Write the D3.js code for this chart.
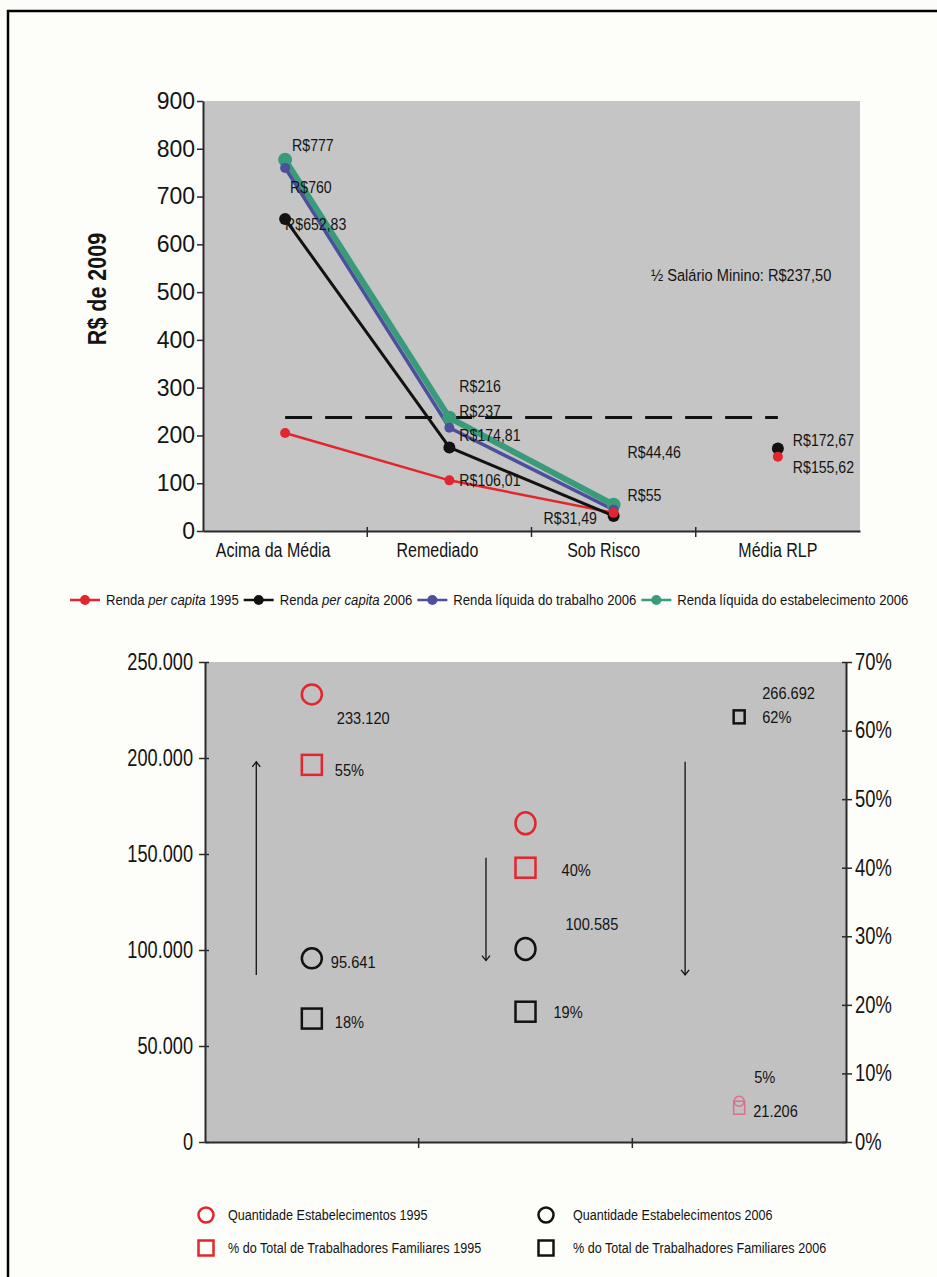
<!DOCTYPE html>
<html>
<head>
<meta charset="utf-8">
<script src="https://cdn.jsdelivr.net/npm/d3@7"></script>
<style>
  html, body { margin: 0; padding: 0; background: #fcfcf9; }
  svg { display: block; }
  text { font-family: 'Liberation Sans', Arial, sans-serif; fill: #141414; }
</style>
</head>
<body>
<svg id="chart" width="937" height="1277"></svg>
<script>
// ---------- Income chart (R$ de 2009) ----------
const categories = ["Acima da Média", "Remediado", "Sob Risco", "Média RLP"];
const rendaPerCapita1995 = [205, 106.01, 38, 155.62];
const rendaPerCapita2006 = [652.83, 174.81, 31.49, 172.67];
const rendaLiquidaTrabalho2006 = [760, 216, 44.46, null];
const rendaLiquidaEstabelecimento2006 = [777, 237, 55, null];
const meioSalarioMinimo = 237.5;
const incomeTicks = [0, 100, 200, 300, 400, 500, 600, 700, 800, 900];

// ---------- Establishments chart ----------
const classes = ["Acima da Média", "Remediado", "Sob Risco"];
const estabelecimentos1995 = [233120, 166000, 21206];
const estabelecimentos2006 = [95641, 100585, 266692];
const trabFamiliares1995 = [55, 40, 5];
const trabFamiliares2006 = [18, 19, 62];
const countTicks = [0, 50000, 100000, 150000, 200000, 250000];
const shareTicks = [0, 10, 20, 30, 40, 50, 60, 70];

const ptBR = d3.formatLocale({ decimal: ",", thousands: ".", grouping: [3], currency: ["R$", ""] });
const fmtInt = ptBR.format(",d");
const fmtDec = ptBR.format(",.2f");
const fmtBRL = v => "R$" + (Number.isInteger(v) ? fmtInt(v) : fmtDec(v));
const fmtPct = v => v + "%";

const RED = "#e3262e", BLACK = "#121212", BLUE = "#4c4f9c", GREEN = "#3a9b7b";

// narrow the glyphs horizontally around each text's own anchor point
function condense(sel, sx) {
  sel.each(function () {
    const t = d3.select(this);
    const x = +t.attr("x") || 0, y = +t.attr("y") || 0;
    t.attr("transform", `translate(${x},${y}) scale(${sx},1) translate(${-x},${-y})`);
  });
}

const svg = d3.select("#chart");

// page frame
svg.append("rect").attr("x", 8).attr("y", 11).attr("width", 960).attr("height", 1300)
  .attr("fill", "#fdfdfa").attr("stroke", "#000").attr("stroke-width", 2.5);

// ================= TOP CHART =================
const incomeBox = { left: 203, right: 860, top: 101, bottom: 531 };
const x1 = d3.scaleBand().domain(categories).range([incomeBox.left, incomeBox.right]);
const y1 = d3.scaleLinear().domain([0, 900]).range([incomeBox.bottom, incomeBox.top]);
const cx1 = c => x1(c) + x1.bandwidth() / 2;

svg.append("rect").attr("x", incomeBox.left).attr("y", incomeBox.top)
  .attr("width", incomeBox.right - incomeBox.left).attr("height", incomeBox.bottom - incomeBox.top)
  .attr("fill", "#c5c5c5");

const incomeSeries = [
  { name: ["Renda ", "per capita", " 1995"], values: rendaPerCapita1995, color: RED, width: 2.5, r: 5 },
  { name: ["Renda ", "per capita", " 2006"], values: rendaPerCapita2006, color: BLACK, width: 3, r: 6 },
  { name: ["Renda líquida do trabalho 2006"], values: rendaLiquidaTrabalho2006, color: BLUE, width: 3.5, r: 5 },
  { name: ["Renda líquida do estabelecimento 2006"], values: rendaLiquidaEstabelecimento2006, color: GREEN, width: 6, r: 7 }
];

// lines join the three income classes; the regional mean is plotted as a lone point
const lineGen = d3.line()
  .defined(d => d.v != null)
  .x(d => cx1(d.c)).y(d => y1(d.v));
const rows = s => categories.map((c, i) => ({ c, v: s.values[i] }));

const lineOrder = [3, 2, 0, 1];
lineOrder.forEach(k => {
  const s = incomeSeries[k];
  svg.append("path")
    .datum(rows(s).slice(0, 3))
    .attr("d", lineGen)
    .attr("fill", "none").attr("stroke", s.color)
    .attr("stroke-width", s.width).attr("stroke-linejoin", "round");
});

// half minimum wage reference
svg.append("line")
  .attr("x1", cx1(categories[0])).attr("x2", cx1(categories[3]))
  .attr("y1", y1(meioSalarioMinimo)).attr("y2", y1(meioSalarioMinimo))
  .attr("stroke", "#111").attr("stroke-width", 3).attr("stroke-dasharray", "27,13");

const markerOrder = [3, 2, 1, 0];
markerOrder.forEach(k => {
  const s = incomeSeries[k];
  svg.append("g").selectAll("circle")
    .data(rows(s).filter(d => d.v != null))
    .join("circle")
    .attr("cx", d => cx1(d.c)).attr("cy", d => y1(d.v))
    .attr("r", s.r).attr("fill", s.color);
});

// value labels (series index, category index, offset)
const incomeLabels = [
  { s: 3, i: 0, dx: 7, dy: -15 },
  { s: 2, i: 0, dx: 5, dy: 19 },
  { s: 1, i: 0, dx: 0, dy: 5 },
  { s: 2, i: 1, dx: 10, dy: -42 },
  { s: 3, i: 1, dx: 10, dy: -7 },
  { s: 1, i: 1, dx: 10, dy: -12 },
  { s: 0, i: 1, dx: 10, dy: 0 },
  { s: 2, i: 2, dx: 14, dy: -58 },
  { s: 3, i: 2, dx: 14, dy: -10 },
  { s: 1, i: 2, dx: -70, dy: 2 },
  { s: 1, i: 3, dx: 15, dy: -8 },
  { s: 0, i: 3, dx: 15, dy: 10 }
];
svg.append("g").selectAll("text")
  .data(incomeLabels)
  .join("text")
  .attr("x", d => cx1(categories[d.i]) + d.dx)
  .attr("y", d => y1(incomeSeries[d.s].values[d.i]) + d.dy)
  .attr("dy", "0.35em")
  .style("font-size", "17px")
  .text(d => fmtBRL(incomeSeries[d.s].values[d.i]))
  .call(condense, 0.83);

svg.append("text")
  .attr("x", 651).attr("y", 275).attr("dy", "0.35em")
  .style("font-size", "17px")
  .text("½ Salário Minino: R$" + ptBR.format(",.2f")(meioSalarioMinimo))
  .call(condense, 0.86);

// y axis
const yAxis1 = svg.append("g").attr("transform", `translate(${incomeBox.left},0)`)
  .call(d3.axisLeft(y1).tickValues(incomeTicks).tickSize(6).tickSizeOuter(0).tickPadding(2));
yAxis1.select(".domain").attr("stroke", "#2a2a2a").attr("stroke-width", 2);
yAxis1.selectAll(".tick line").attr("stroke", "#2a2a2a").attr("stroke-width", 1.5);
yAxis1.selectAll(".tick text").style("font-family", "'Liberation Sans', Arial, sans-serif")
  .style("font-size", "23px").attr("fill", "#111");

// x axis: category names sit slightly off the band centres
const axisLabelShift = [-12, -12, -10, 0];
const xAxis1 = svg.append("g").attr("transform", `translate(0,${incomeBox.bottom})`)
  .call(d3.axisBottom(x1).tickSize(0).tickPadding(12).tickSizeOuter(0));
xAxis1.select(".domain").attr("stroke", "#2a2a2a").attr("stroke-width", 2);
xAxis1.selectAll(".tick text")
  .attr("x", (d, i) => axisLabelShift[i])
  .style("font-size", "20px").attr("fill", "#111")
  .call(condense, 0.8);
xAxis1.append("g").selectAll("line")
  .data(categories.slice(1))
  .join("line")
  .attr("x1", c => x1(c)).attr("x2", c => x1(c))
  .attr("y1", -4).attr("y2", 6)
  .attr("stroke", "#2a2a2a").attr("stroke-width", 1.5);

// axis title, condensed along its own (rotated) direction
svg.append("text")
  .attr("transform", "translate(97,289) rotate(-90) scale(0.86,1)")
  .attr("text-anchor", "middle").attr("dy", "0.35em")
  .style("font-size", "25px").style("font-weight", "bold")
  .text("R$ de 2009");

// legend
const legend1 = svg.append("g").attr("transform", "translate(0,600)");
const legendScale = 0.875;
let lx = 70;
incomeSeries.forEach(s => {
  const g = legend1.append("g");
  g.append("line").attr("x1", lx).attr("x2", lx + 30).attr("stroke", s.color).attr("stroke-width", 2.5);
  g.append("circle").attr("cx", lx + 15).attr("r", 5).attr("fill", s.color);
  const t = g.append("text").attr("x", lx + 36).attr("y", 0).attr("dy", "0.35em").style("font-size", "15px");
  s.name.forEach(part => {
    t.append("tspan").style("font-style", part === "per capita" ? "italic" : "normal").text(part);
  });
  t.call(condense, legendScale);
  lx += 36 + t.node().getComputedTextLength() * legendScale + 5;
});

// ================= BOTTOM CHART =================
const countBox = { left: 205, right: 846, top: 662, bottom: 1142 };
const x2 = d3.scaleBand().domain(classes).range([countBox.left, countBox.right]);
const cx2 = c => x2(c) + x2.bandwidth() / 2;
const yCount = d3.scaleLinear().domain([0, 250000]).range([countBox.bottom, countBox.top]);
const yShare = d3.scaleLinear().domain([0, 70]).range([countBox.bottom, countBox.top]);

svg.append("rect").attr("x", countBox.left).attr("y", countBox.top)
  .attr("width", countBox.right - countBox.left).attr("height", countBox.bottom - countBox.top)
  .attr("fill", "#c1c1c1");

const defs = svg.append("defs");
defs.append("clipPath").attr("id", "plotClip").append("rect")
  .attr("x", countBox.left).attr("y", countBox.top)
  .attr("width", countBox.right - countBox.left).attr("height", countBox.bottom - countBox.top);

// arrows between years (class, position inside band, from, to)
const arrows = [
  { c: "Acima da Média", f: 0.24, from: 87000, to: 198000 },
  { c: "Remediado", f: 0.315, from: 148000, to: 94500 },
  { c: "Sob Risco", f: 0.247, from: 198000, to: 87000 }
];
defs.append("marker")
  .attr("id", "arrowHead").attr("viewBox", "-6 -6 12 12")
  .attr("refX", 0).attr("refY", 0).attr("markerWidth", 12).attr("markerHeight", 12)
  .attr("markerUnits", "userSpaceOnUse").attr("orient", "auto")
  .append("path").attr("d", "M-5,-4 L0,0 L-5,4").attr("fill", "none")
  .attr("stroke", "#111").attr("stroke-width", 1.3);
svg.append("g").selectAll("line")
  .data(arrows)
  .join("line")
  .attr("x1", d => x2(d.c) + d.f * x2.bandwidth()).attr("x2", d => x2(d.c) + d.f * x2.bandwidth())
  .attr("y1", d => yCount(d.from)).attr("y2", d => yCount(d.to))
  .attr("stroke", "#111").attr("stroke-width", 1.3)
  .attr("marker-end", "url(#arrowHead)");

// markers: circles = establishments (left axis), squares = share of family workers (right axis)
const markerSeries = [
  { values: estabelecimentos1995, scale: yCount, shape: "circle", color: RED },
  { values: trabFamiliares1995, scale: yShare, shape: "square", color: RED },
  { values: estabelecimentos2006, scale: yCount, shape: "circle", color: BLACK },
  { values: trabFamiliares2006, scale: yShare, shape: "square", color: BLACK }
];
const markerStyle = [
  { rx: 10, ry: 10, w: 20, h: 20 },
  { rx: 10, ry: 11, w: 20, h: 20 },
  { rx: 5, ry: 5, w: 11, h: 13 }
];
const plotG = svg.append("g").attr("clip-path", "url(#plotClip)");
markerSeries.forEach(s => {
  classes.forEach((c, i) => {
    const st = markerStyle[i];
    const faded = (i === 2 && s.color === RED);
    const col = faded ? "#d9708a" : s.color;
    const px = cx2(c), py = s.scale(s.values[i]);
    if (s.shape === "circle") {
      plotG.append("ellipse").attr("cx", px).attr("cy", py)
        .attr("rx", st.rx).attr("ry", st.ry)
        .attr("fill", "none").attr("stroke", col).attr("stroke-width", faded ? 1.5 : 2.5);
    } else {
      plotG.append("rect").attr("x", px - st.w / 2).attr("y", py - st.h / 2)
        .attr("width", st.w).attr("height", st.h)
        .attr("fill", "none").attr("stroke", col).attr("stroke-width", faded ? 1.5 : 2.5);
    }
  });
});

// value labels: value series, anchor series, class, offset
const shareLabels = [
  { v: 0, a: 0, i: 0, dx: 25, dy: 24 },
  { v: 1, a: 1, i: 0, dx: 23, dy: 5 },
  { v: 2, a: 2, i: 0, dx: 19, dy: 4 },
  { v: 3, a: 3, i: 0, dx: 23, dy: 3 },
  { v: 1, a: 1, i: 1, dx: 36, dy: 2 },
  { v: 2, a: 2, i: 1, dx: 40, dy: -25 },
  { v: 3, a: 3, i: 1, dx: 28, dy: 0 },
  { v: 2, a: 3, i: 2, dx: 23, dy: -24 },
  { v: 3, a: 3, i: 2, dx: 23, dy: 0 },
  { v: 1, a: 1, i: 2, dx: 15, dy: -31 },
  { v: 0, a: 0, i: 2, dx: 14, dy: 10 }
];
svg.append("g").selectAll("text")
  .data(shareLabels)
  .join("text")
  .attr("x", d => cx2(classes[d.i]) + d.dx)
  .attr("y", d => markerSeries[d.a].scale(markerSeries[d.a].values[d.i]) + d.dy)
  .attr("dy", "0.35em")
  .style("font-size", "17px")
  .text(d => {
    const s = markerSeries[d.v];
    return s.scale === yShare ? fmtPct(s.values[d.i]) : fmtInt(s.values[d.i]);
  })
  .call(condense, 0.86);

// axes
const styleAxis = g => {
  g.select(".domain").attr("stroke", "#2a2a2a").attr("stroke-width", 2);
  g.selectAll(".tick line").attr("stroke", "#2a2a2a").attr("stroke-width", 1.5);
};
const yAxisL = svg.append("g").attr("transform", `translate(${countBox.left},0)`)
  .call(d3.axisLeft(yCount).tickValues(countTicks).tickFormat(fmtInt).tickSize(6).tickSizeOuter(0).tickPadding(6));
styleAxis(yAxisL);
yAxisL.selectAll(".tick line").attr("x1", 4);
yAxisL.selectAll(".tick text").style("font-size", "23px").attr("fill", "#111").call(condense, 0.79);

const yAxisR = svg.append("g").attr("transform", `translate(${countBox.right},0)`)
  .call(d3.axisRight(yShare).tickValues(shareTicks).tickFormat(fmtPct).tickSize(6).tickSizeOuter(0).tickPadding(3));
styleAxis(yAxisR);
yAxisR.selectAll(".tick line").attr("x1", -4);
yAxisR.selectAll(".tick text").style("font-size", "23px").attr("fill", "#111").call(condense, 0.8);

const xAxis2 = svg.append("g").attr("transform", `translate(0,${countBox.bottom})`)
  .call(d3.axisBottom(x2).tickSize(0).tickFormat("").tickSizeOuter(0));
styleAxis(xAxis2);
xAxis2.append("g").selectAll("line")
  .data(classes.slice(1))
  .join("line")
  .attr("x1", c => x2(c)).attr("x2", c => x2(c))
  .attr("y1", -4).attr("y2", 6)
  .attr("stroke", "#2a2a2a").attr("stroke-width", 1.5);

// legend
const legend2 = [
  { label: "Quantidade Estabelecimentos 1995", shape: "circle", color: RED, col: 0, row: 0 },
  { label: "% do Total de Trabalhadores Familiares 1995", shape: "square", color: RED, col: 0, row: 1 },
  { label: "Quantidade Estabelecimentos 2006", shape: "circle", color: BLACK, col: 1, row: 0 },
  { label: "% do Total de Trabalhadores Familiares 2006", shape: "square", color: BLACK, col: 1, row: 1 }
];
const lgCols = [206, 546], lgRows = [1215, 1248];
const lg = svg.append("g");
legend2.forEach(d => {
  const gx = lgCols[d.col], gy = lgRows[d.row];
  if (d.shape === "circle") {
    lg.append("circle").attr("cx", gx).attr("cy", gy).attr("r", 7.5)
      .attr("fill", "none").attr("stroke", d.color).attr("stroke-width", 2.5);
  } else {
    lg.append("rect").attr("x", gx - 7.5).attr("y", gy - 7.5).attr("width", 15).attr("height", 15)
      .attr("fill", "none").attr("stroke", d.color).attr("stroke-width", 2.5);
  }
  lg.append("text").attr("x", gx + 22 + d.col * 5).attr("y", gy).attr("dy", "0.35em")
    .style("font-size", "15px").text(d.label)
    .call(condense, 0.84);
});
</script>
</body>
</html>
